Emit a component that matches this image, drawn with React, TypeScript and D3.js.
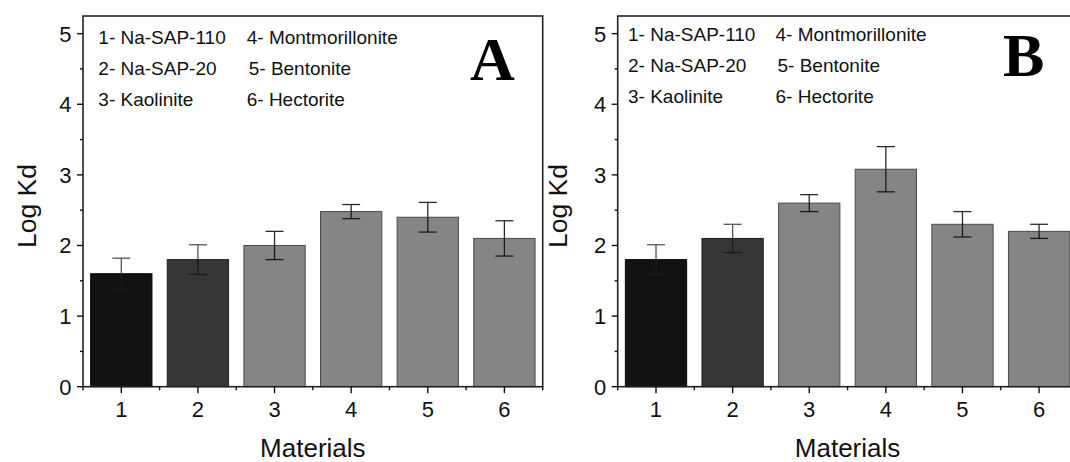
import React from 'react';
import * as d3 from 'd3';

// materials 1..6
const materials = [1, 2, 3, 4, 5, 6];
const legendNames = ['Na-SAP-110', 'Na-SAP-20', 'Kaolinite', 'Montmorillonite', 'Bentonite', 'Hectorite'];

// panel A
const logKdA = [1.6, 1.8, 2.0, 2.48, 2.4, 2.1];
const errA = [0.22, 0.21, 0.2, 0.1, 0.21, 0.25];

// panel B
const logKdB = [1.8, 2.1, 2.6, 3.08, 2.3, 2.2];
const errB = [0.21, 0.2, 0.12, 0.32, 0.18, 0.1];

const yMajor = [0, 1, 2, 3, 4, 5];
const yMinor = [0.5, 1.5, 2.5, 3.5, 4.5];
const xMinor = [0.5, 1.5, 2.5, 3.5, 4.5, 5.5, 6.5];

const barFill = ['#121212', '#363636', '#858585', '#858585', '#858585', '#858585'];
const barStroke = ['#050505', '#1e1e1e', '#4a4a4a', '#4a4a4a', '#4a4a4a', '#4a4a4a'];

const W = 459.7;
const TOP = 16;
const BOTTOM = 386.7;
const SANS = 'Arial, "Liberation Sans", sans-serif';

type PanelProps = {
  left: number;
  values: number[];
  errors: number[];
  letter: string;
  letterX: number;
  letterY: number;
  legendX: [number, number];
  legendY: number;
  titleX: number;
};

function Panel(props: PanelProps) {
  const { left, values, errors } = props;
  const x = d3.scaleLinear().domain([0.5, 6.5]).range([0, W]);
  const y = d3.scaleLinear().domain([0, 5.25]).range([BOTTOM - TOP, 0]);
  const h = BOTTOM - TOP;
  const bw = x(1.3) - x(0.5); // bar = 0.8 of a category
  const cap = 9;

  return (
    <g>
      {/* legend */}
      {legendNames.map((name, i) => {
        const col = Math.floor(i / 3);
        const row = i % 3;
        return (
          <text key={name} x={props.legendX[col] + (i === 4 ? 2 : 0)} y={props.legendY + row * 31}
            fontFamily={SANS} fontSize={19} fill="#111">
            {materials[i]}- {name}
          </text>
        );
      })}
      <text x={props.letterX} y={props.letterY} fontFamily='"Liberation Serif", "Times New Roman", serif'
        fontWeight="bold" fontSize={62} fill="#000">{props.letter}</text>

      <g transform={`translate(${left},${TOP})`}>
        {/* bars */}
        {values.map((v, i) => (
          <rect key={i} x={x(materials[i]) - bw / 2} y={y(v)} width={bw} height={y(0) - y(v)}
            fill={barFill[i]} stroke={barStroke[i]} strokeWidth={1} />
        ))}
        {/* error bars */}
        {values.map((v, i) => {
          const cx = x(materials[i]);
          const hi = y(v + errors[i]);
          const lo = y(v - errors[i]);
          return (
            <g key={'e' + i} stroke={i < 2 ? '#555' : '#2a2a2a'} strokeWidth={1.3}>
              <line x1={cx} x2={cx} y1={hi} y2={y(v)} />
              <line x1={cx} x2={cx} y1={y(v)} y2={lo} stroke="#1a1a1a" />
              <line x1={cx - cap} x2={cx + cap} y1={hi} y2={hi} />
              <line x1={cx - cap} x2={cx + cap} y1={lo} y2={lo} stroke="#1a1a1a" />
            </g>
          );
        })}
        {/* frame */}
        <rect x={0} y={0} width={W} height={h} fill="none" stroke="#222" strokeWidth={1.6} />

        {/* y ticks */}
        {yMajor.map((t) => (
          <g key={'y' + t}>
            <line x1={-6} x2={0} y1={y(t)} y2={y(t)} stroke="#111" strokeWidth={1.4} />
            <text x={-11.5} y={y(t)} dy="0.36em" textAnchor="end" fontFamily={SANS} fontSize={22} fill="#111">{t}</text>
          </g>
        ))}
        {yMinor.map((t) => (
          <line key={'ym' + t} x1={-3} x2={0} y1={y(t)} y2={y(t)} stroke="#111" strokeWidth={1.4} />
        ))}

        {/* x ticks */}
        {materials.map((m) => (
          <g key={'x' + m}>
            <line x1={x(m)} x2={x(m)} y1={h} y2={h + 6.5} stroke="#111" strokeWidth={1.4} />
            <text x={x(m)} y={h + 30.6} textAnchor="middle" fontFamily={SANS} fontSize={22} fill="#111">{m}</text>
          </g>
        ))}
        {xMinor.map((t) => (
          <line key={'xm' + t} x1={x(t)} x2={x(t)} y1={h} y2={h + 3.5} stroke="#111" strokeWidth={1.4} />
        ))}

        <text x={W / 2} y={h + 70.5} textAnchor="middle" fontFamily={SANS} fontSize={26} fill="#111">Materials</text>
      </g>
      <text transform={`translate(${props.titleX},206) rotate(-90)`} textAnchor="middle"
        fontFamily={SANS} fontSize={26.5} fill="#111">Log Kd</text>
    </g>
  );
}

export default function App() {
  return (
    <svg width={1070} height={462} style={{ position: 'absolute', left: 0, top: 0, background: '#fff' }}>
      <rect width={1070} height={462} fill="#fff" />
      <Panel left={83} values={logKdA} errors={errA} letter="A" letterX={470} letterY={80}
        legendX={[98.3, 246.7]} legendY={43.5} titleX={36} />
      <Panel left={617.7} values={logKdB} errors={errB} letter="B" letterX={1003} letterY={76}
        legendX={[628, 775.5]} legendY={41} titleX={567} />
    </svg>
  );
}
